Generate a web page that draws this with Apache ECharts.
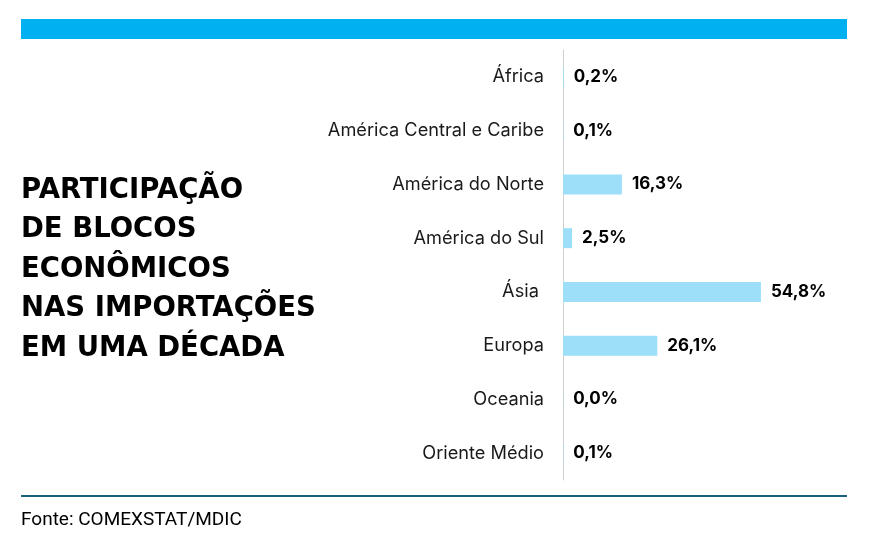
<!DOCTYPE html>
<html><head><meta charset="utf-8">
<script src="https://cdn.jsdelivr.net/npm/echarts@6/dist/echarts.min.js"></script>
<style>html,body{margin:0;padding:0;background:#fff}#c{width:870px;height:546px}</style>
</head><body><div id="c"></div>
<script>
const categories = ['África','América Central e Caribe','América do Norte','América do Sul','Ásia ','Europa','Oceania','Oriente Médio'];
const values = [0.2, 0.1, 16.3, 2.5, 54.8, 26.1, 0.04, 0.1];
const valueLabels = ['0,2%','0,1%','16,3%','2,5%','54,8%','26,1%','0,0%','0,1%'];
const titleLines = ['PARTICIPAÇÃO','DE BLOCOS','ECONÔMICOS','NAS IMPORTAÇÕES','EM UMA DÉCADA'];
const sourceText = 'Fonte: COMEXSTAT/MDIC';

const chart = echarts.init(document.getElementById('c'));
chart.setOption({
  backgroundColor:'#fff',
  animation:false,
  title:{
    text: titleLines.join('\n'),
    left:16, top:166,
    textStyle:{fontFamily:'DejaVu Sans',fontWeight:'bold',fontSize:27.5,lineHeight:39.5,color:'#000'}
  },
  grid:{left:563, right:18, top:50, bottom:66, containLabel:false},
  xAxis:{type:'value', min:0, max:80, show:false},
  yAxis:{type:'category', data:categories, inverse:true,
    axisLine:{show:true,lineStyle:{color:'#d0d0d0',width:1}},
    axisTick:{show:false},
    axisLabel:{margin:19,fontFamily:'Inter',fontSize:18.2,color:'#1a1a1a'}
  },
  series:[{
    type:'bar', data:values, barWidth:20,
    itemStyle:{color:'#9ddff8'},
    label:{show:true, position:'right', distance:10,
      formatter:p=>valueLabels[p.dataIndex],
      fontFamily:'Inter',fontWeight:'bold',fontSize:17,color:'#000'}
  }],
  graphic:[
    {type:'rect', shape:{x:21,y:19,width:826,height:20}, style:{fill:'#00b0f0'}},
    {type:'rect', shape:{x:21,y:495,width:826,height:2}, style:{fill:'#1b5e7e'}},
    {type:'text', x:21, y:511, style:{text:sourceText, fontFamily:'Roboto', fontSize:19, fill:'#000'}}
  ]
});
</script></body></html>
